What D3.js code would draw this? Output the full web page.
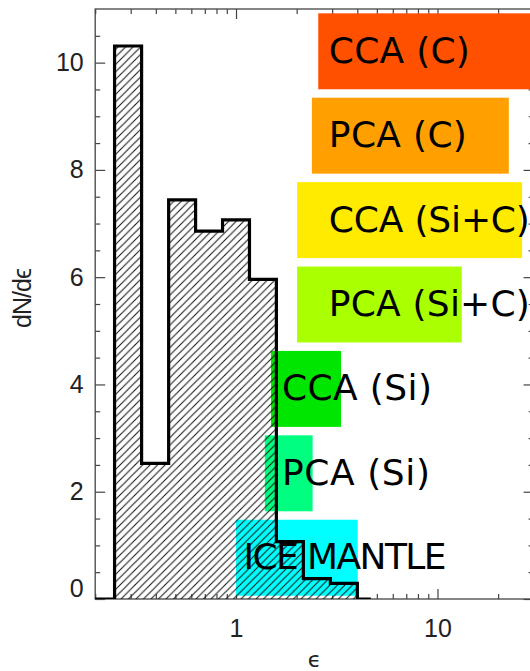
<!DOCTYPE html>
<html>
<head>
<meta charset="utf-8">
<script src="https://cdn.jsdelivr.net/npm/d3@7/dist/d3.min.js"></script>
<style>
  html, body { margin: 0; padding: 0; background: #fff; }
  svg { display: block; }
</style>
</head>
<body>
<svg id="chart" width="530" height="671"></svg>
<script>
// ---------------- data ----------------
// histogram: bin centres (epsilon) and dN/d(epsilon)
const binCenters = [0.157, 0.214, 0.291, 0.397, 0.540, 0.735, 1.0, 1.36, 1.85, 2.52, 3.43, 4.67];
const binValues  = [0, 0, 10.31, 2.53, 7.44, 6.86, 7.07, 5.96, 1.07, 0.38, 0.29, 0];

// grain models and their epsilon ranges
const models  = ["CCA (C)", "PCA (C)", "CCA (Si+C)", "PCA (Si+C)", "CCA (Si)", "PCA (Si)", "ICE MANTLE"];
const epsMin  = [2.56, 2.38, 2.01, 2.01, 1.49, 1.39, 1.0];
const epsMax  = [30, 22.6, 26.3, 13.2, 3.32, 2.40, 4.02];
const labelEps = [2.89, 2.89, 2.89, 2.89, 1.69, 1.69, 1.09];

// ticks
const xMajorTicks = [1, 10];
const xMinorTicks = [0.2,0.3,0.4,0.5,0.6,0.7,0.8,0.9,2,3,4,5,6,7,8,9,20,30];
const yMajorTicks = [0, 2, 4, 6, 8, 10];
const yMinorTicks = [0.5,1,1.5,2.5,3,3.5,4.5,5,5.5,6.5,7,7.5,8.5,9,9.5,10.5];

// styles
const modelColors = ["#ff5000", "#ffa000", "#ffeb00", "#aaff00", "#00e600", "#00ff80", "#00ffff"];
const labelWidths = [141, 138, 201, 201, 150, 148, 203];

// ---------------- layout ----------------
const svg = d3.select("#chart");
const L = 95.2, R = 533.6, T = 9, B = 599;
const x = d3.scaleLog().domain([0.2, 30]).range([L, R]);
const y = d3.scaleLinear().domain([0, 11]).range([B, T]);
const row = d3.scaleBand().domain(models).range([13.3, 595.7]).paddingInner(0.1);

const axisColor = "#444";
const tickFont = "'Liberation Sans', Arial, sans-serif";

svg.append("rect").attr("width", 530).attr("height", 671).attr("fill", "#fff");

const defs = svg.append("defs");
const pat = defs.append("pattern").attr("id", "hatch")
  .attr("patternUnits", "userSpaceOnUse").attr("width", 7.5).attr("height", 7.5);
pat.append("path")
  .attr("d", "M-1,1 L1,-1 M0,7.5 L7.5,0 M6.5,8.5 L8.5,6.5")
  .attr("stroke", "#111").attr("stroke-width", 1);
defs.append("clipPath").attr("id", "plotclip")
  .append("rect").attr("x", L).attr("y", T).attr("width", R - L).attr("height", B - T);

// ---------------- axes ----------------
function styleAxis(g) {
  g.select(".domain").remove();
  g.selectAll(".tick line").attr("stroke", axisColor).attr("stroke-width", 1.2);
  g.selectAll(".tick text").attr("fill", "#222").attr("font-family", tickFont).attr("font-size", 25);
}
// bottom
svg.append("g").attr("transform", `translate(0,${B})`)
  .call(d3.axisBottom(x).tickValues(xMajorTicks).tickFormat(d3.format("d")).tickSizeInner(-10).tickSizeOuter(0).tickPadding(20))
  .call(styleAxis);
svg.append("g").attr("transform", `translate(0,${B})`)
  .call(d3.axisBottom(x).tickValues(xMinorTicks).tickFormat("").tickSizeInner(-5).tickSizeOuter(0))
  .call(styleAxis);
// top
svg.append("g").attr("transform", `translate(0,${T})`)
  .call(d3.axisTop(x).tickValues(xMajorTicks).tickFormat("").tickSizeInner(-10).tickSizeOuter(0))
  .call(styleAxis);
svg.append("g").attr("transform", `translate(0,${T})`)
  .call(d3.axisTop(x).tickValues(xMinorTicks).tickFormat("").tickSizeInner(-5).tickSizeOuter(0))
  .call(styleAxis);
// left
const yl = svg.append("g").attr("transform", `translate(${L},0)`)
  .call(d3.axisLeft(y).tickValues(yMajorTicks).tickFormat(d3.format("d")).tickSizeInner(-10).tickSizeOuter(0).tickPadding(11.5))
  .call(styleAxis);
yl.selectAll(".tick text").filter(d => d === 0).attr("dy", "-0.12em");
svg.append("g").attr("transform", `translate(${L},0)`)
  .call(d3.axisLeft(y).tickValues(yMinorTicks).tickFormat("").tickSizeInner(-5).tickSizeOuter(0))
  .call(styleAxis);
// right
svg.append("g").attr("transform", `translate(${R},0)`)
  .call(d3.axisRight(y).tickValues(yMajorTicks).tickFormat("").tickSizeInner(-10).tickSizeOuter(0))
  .call(styleAxis);
svg.append("g").attr("transform", `translate(${R},0)`)
  .call(d3.axisRight(y).tickValues(yMinorTicks).tickFormat("").tickSizeInner(-5).tickSizeOuter(0))
  .call(styleAxis);
// frame
svg.append("rect").attr("x", L).attr("y", T).attr("width", R - L).attr("height", B - T)
  .attr("fill", "none").attr("stroke", axisColor).attr("stroke-width", 1.3);

// ---------------- model boxes ----------------
svg.append("g").selectAll("rect").data(models).join("rect")
  .attr("x", (d, i) => x(epsMin[i]))
  .attr("width", (d, i) => x(epsMax[i]) - x(epsMin[i]))
  .attr("y", d => row(d))
  .attr("height", row.bandwidth())
  .attr("fill", (d, i) => modelColors[i]);

// ---------------- histogram ----------------
const hist = binCenters.map((e, i) => ({ e, v: binValues[i] }));
const gH = svg.append("g").attr("clip-path", "url(#plotclip)");
gH.append("path").datum(hist)
  .attr("d", d3.area().x(d => x(d.e)).y0(y(0)).y1(d => y(d.v)).curve(d3.curveStep))
  .attr("fill", "url(#hatch)");
gH.append("path").datum(hist)
  .attr("d", d3.line().x(d => x(d.e)).y(d => y(d.v)).curve(d3.curveStep))
  .attr("fill", "none").attr("stroke", "#000").attr("stroke-width", 3.2)
  .attr("stroke-linejoin", "miter").attr("stroke-linecap", "butt");

// ---------------- model labels ----------------
svg.append("g").selectAll("text").data(models).join("text")
  .attr("x", (d, i) => x(labelEps[i]))
  .attr("y", d => row(d) + 49.5)
  .attr("font-family", "'DejaVu Sans', sans-serif")
  .attr("font-size", 36)
  .attr("fill", "#000")
  .attr("textLength", (d, i) => labelWidths[i])
  .attr("lengthAdjust", "spacing")
  .text(d => d);

// ---------------- axis titles ----------------
svg.append("text")
  .attr("x", (L + R) / 2).attr("y", 667)
  .attr("text-anchor", "middle")
  .attr("font-family", "'DejaVu Sans', sans-serif").attr("font-size", 22).attr("fill", "#222")
  .text("\u03f5");
svg.append("text")
  .attr("transform", "translate(30.5,298) rotate(-90)")
  .attr("text-anchor", "middle")
  .attr("font-family", tickFont).attr("font-size", 25).attr("fill", "#222")
  .attr("textLength", 60).attr("lengthAdjust", "spacing")
  .text("dN/d\u03f5");
</script>
</body>
</html>
